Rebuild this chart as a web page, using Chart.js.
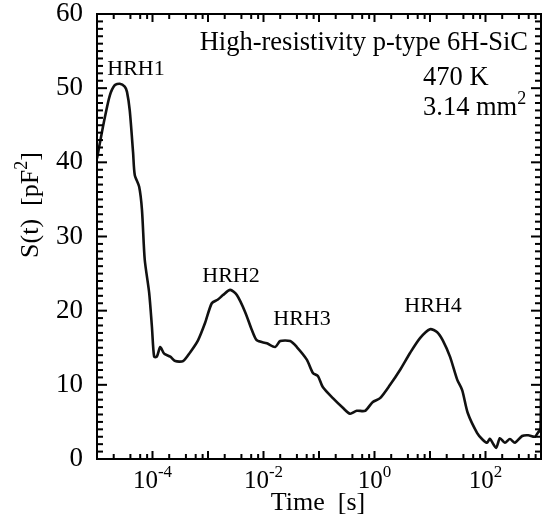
<!DOCTYPE html>
<html>
<head>
<meta charset="utf-8">
<script src="https://cdn.jsdelivr.net/npm/chart.js@4.4.0/dist/chart.umd.min.js"></script>
<style>
  html, body { margin: 0; padding: 0; background: #fff; }
  #wrap { width: 546px; height: 529px; }
</style>
</head>
<body>
<div id="wrap"><canvas id="chart" width="546" height="529"></canvas></div>
<script>
// ─── Data ────────────────────────────────────────────────
const times = [
  1.00e-5, 1.12e-5, 1.38e-5, 1.70e-5, 2.09e-5, 2.57e-5, 3.16e-5, 3.47e-5, 3.89e-5, 4.47e-5,
  4.79e-5, 5.75e-5, 6.46e-5, 7.24e-5, 8.71e-5, 9.77e-5, 1.07e-4, 1.20e-4, 1.38e-4, 1.62e-4,
  2.09e-4, 2.57e-4, 3.55e-4, 4.79e-4, 6.61e-4, 8.91e-4, 1.17e-3, 1.51e-3, 1.86e-3, 2.51e-3,
  3.31e-3, 4.68e-3, 6.17e-3, 7.59e-3, 1.15e-2, 1.62e-2, 2.00e-2, 3.02e-2, 3.98e-2, 6.03e-2,
  7.76e-2, 9.55e-2, 0.117, 0.178, 0.269, 0.363, 0.479, 0.676, 0.933, 1.26,
  1.91, 2.88, 4.37, 6.61, 10.0, 13.5, 17.0, 22.9, 30.9, 38.0,
  47.9, 70.8, 89.1, 107, 120, 155, 182, 224, 275, 339,
  457, 589, 776, 891, 977, 1000
];
const signal = [
  40.5, 42.5, 46.0, 49.0, 50.4, 50.6, 50.2, 49.5, 47.0, 41.3,
  38.3, 36.7, 33.6, 26.9, 22.4, 17.8, 13.8, 13.8, 15.1, 14.2,
  13.8, 13.2, 13.2, 14.4, 16.0, 18.4, 21.0, 21.5, 22.1, 22.8,
  22.1, 19.8, 17.4, 16.0, 15.6, 15.1, 15.9, 15.9, 15.1, 13.4,
  11.6, 11.2, 9.7, 8.2, 6.9, 6.1, 6.5, 6.5, 7.7, 8.2,
  10.0, 12.0, 14.3, 16.3, 17.5, 17.1, 16.0, 13.8, 10.7, 9.3,
  6.2, 3.5, 2.6, 2.2, 2.7, 1.5, 2.8, 2.2, 2.7, 2.2,
  3.1, 3.2, 3.0, 3.6, 4.0, 8.8
];

const xMin = 1e-5, xMax = 1e3;
const yMin = 0, yMax = 60;
const xTickValues = [1e-4, 1e-2, 1, 1e2];
const xTickExps   = ["-4", "-2", "0", "2"];
const yTickValues = [0, 10, 20, 30, 40, 50, 60];

const peakLabels = ["HRH1", "HRH2", "HRH3", "HRH4"];
const peakPos    = [[136, 75], [231, 282], [302, 325], [433, 312]];   // centre x, baseline y

// ─── Frame, ticks and texts ──────────────────────────────
const SERIF = "'Liberation Serif', 'Times New Roman', serif";

const framePlugin = {
  id: "frame",
  afterDraw(chart) {
    const ctx = chart.ctx;
    const a = chart.chartArea;
    const xs = chart.scales.x, ys = chart.scales.y;
    const L = a.left, R = a.right, T = a.top, B = a.bottom;
    ctx.save();
    ctx.fillStyle = "#000";
    ctx.strokeStyle = "#000";

    // ticks, drawn inward on all four sides
    for (let d = -5; d <= 3; d++) {
      for (let m = 1; m <= 9; m++) {
        if (m !== 1 && m % 2 === 1) continue;
        const v = m * Math.pow(10, d);
        if (v < xMin || v > xMax) continue;
        const px = xs.getPixelForValue(v);
        const len = m === 1 ? 8 : 5;
        ctx.fillRect(px - 1, B - len, 2, len);
        ctx.fillRect(px - 1, T, 2, len);
      }
    }
    for (let v = yMin; v <= yMax; v++) {
      const py = ys.getPixelForValue(v);
      const len = v % 10 === 0 ? 10 : 6;
      ctx.fillRect(L, py - 1, len, 2);
      ctx.fillRect(R - len, py - 1, len, 2);
    }

    // frame
    ctx.lineWidth = 2;
    ctx.strokeRect(L, T, R - L, B - T);

    // y tick labels
    ctx.font = "27px " + SERIF;
    ctx.textAlign = "right";
    ctx.textBaseline = "middle";
    yTickValues.forEach(v => ctx.fillText(String(v), 83, ys.getPixelForValue(v)));

    // x tick labels: 10 with superscript exponent
    ctx.textBaseline = "alphabetic";
    xTickValues.forEach((v, i) => {
      const px = xs.getPixelForValue(v);
      ctx.font = "25px " + SERIF;
      const wBase = ctx.measureText("10").width;
      ctx.font = "17px " + SERIF;
      const wExp = ctx.measureText(xTickExps[i]).width;
      const x0 = px - (wBase + wExp) / 2;
      ctx.textAlign = "left";
      ctx.font = "25px " + SERIF;
      ctx.fillText("10", x0, 488);
      ctx.font = "17px " + SERIF;
      ctx.fillText(xTickExps[i], x0 + wBase, 477);
    });

    // axis titles
    ctx.font = "26px " + SERIF;
    ctx.textAlign = "center";
    ctx.fillText("Time  [s]", 318, 510);

    ctx.save();
    ctx.translate(38, 205);
    ctx.rotate(-Math.PI / 2);
    ctx.font = "26px " + SERIF;
    const yt1 = "S(t)  [pF", yt2 = "]";
    const w1 = ctx.measureText(yt1).width;
    ctx.font = "18px " + SERIF;
    const wSup = ctx.measureText("2").width;
    ctx.font = "26px " + SERIF;
    const w3 = ctx.measureText(yt2).width;
    const sx = -(w1 + wSup + w3) / 2;
    ctx.textAlign = "left";
    ctx.fillText(yt1, sx, 0);
    ctx.font = "18px " + SERIF;
    ctx.fillText("2", sx + w1, -11);
    ctx.font = "26px " + SERIF;
    ctx.fillText(yt2, sx + w1 + wSup, 0);
    ctx.restore();

    // peak names
    ctx.font = "22px " + SERIF;
    ctx.textAlign = "center";
    peakLabels.forEach((t, i) => ctx.fillText(t, peakPos[i][0], peakPos[i][1]));

    // sample info
    ctx.font = "26.5px " + SERIF;
    ctx.textAlign = "right";
    ctx.fillText("High-resistivity p-type 6H-SiC", 528, 50);
    ctx.textAlign = "left";
    ctx.fillText("470 K", 423, 85);
    ctx.fillText("3.14 mm", 423, 115);
    const wmm = ctx.measureText("3.14 mm").width;
    ctx.font = "18px " + SERIF;
    ctx.fillText("2", 423 + wmm, 104);

    ctx.restore();
  }
};

// ─── Chart ───────────────────────────────────────────────
new Chart(document.getElementById("chart"), {
  type: "line",
  data: {
    datasets: [{
      data: times.map((t, i) => ({ x: t, y: signal[i] })),
      borderColor: "#111",
      borderWidth: 2.6,
      pointRadius: 0,
      tension: 0.25,
      fill: false,
    }]
  },
  options: {
    responsive: false,
    animation: false,
    layout: { padding: { left: 97, right: 5, top: 14, bottom: 70 } },
    scales: {
      x: { type: "logarithmic", min: xMin, max: xMax, display: false },
      y: { type: "linear", min: yMin, max: yMax, display: false },
    },
    plugins: { legend: { display: false }, tooltip: { enabled: false } }
  },
  plugins: [framePlugin]
});
</script>
</body>
</html>
